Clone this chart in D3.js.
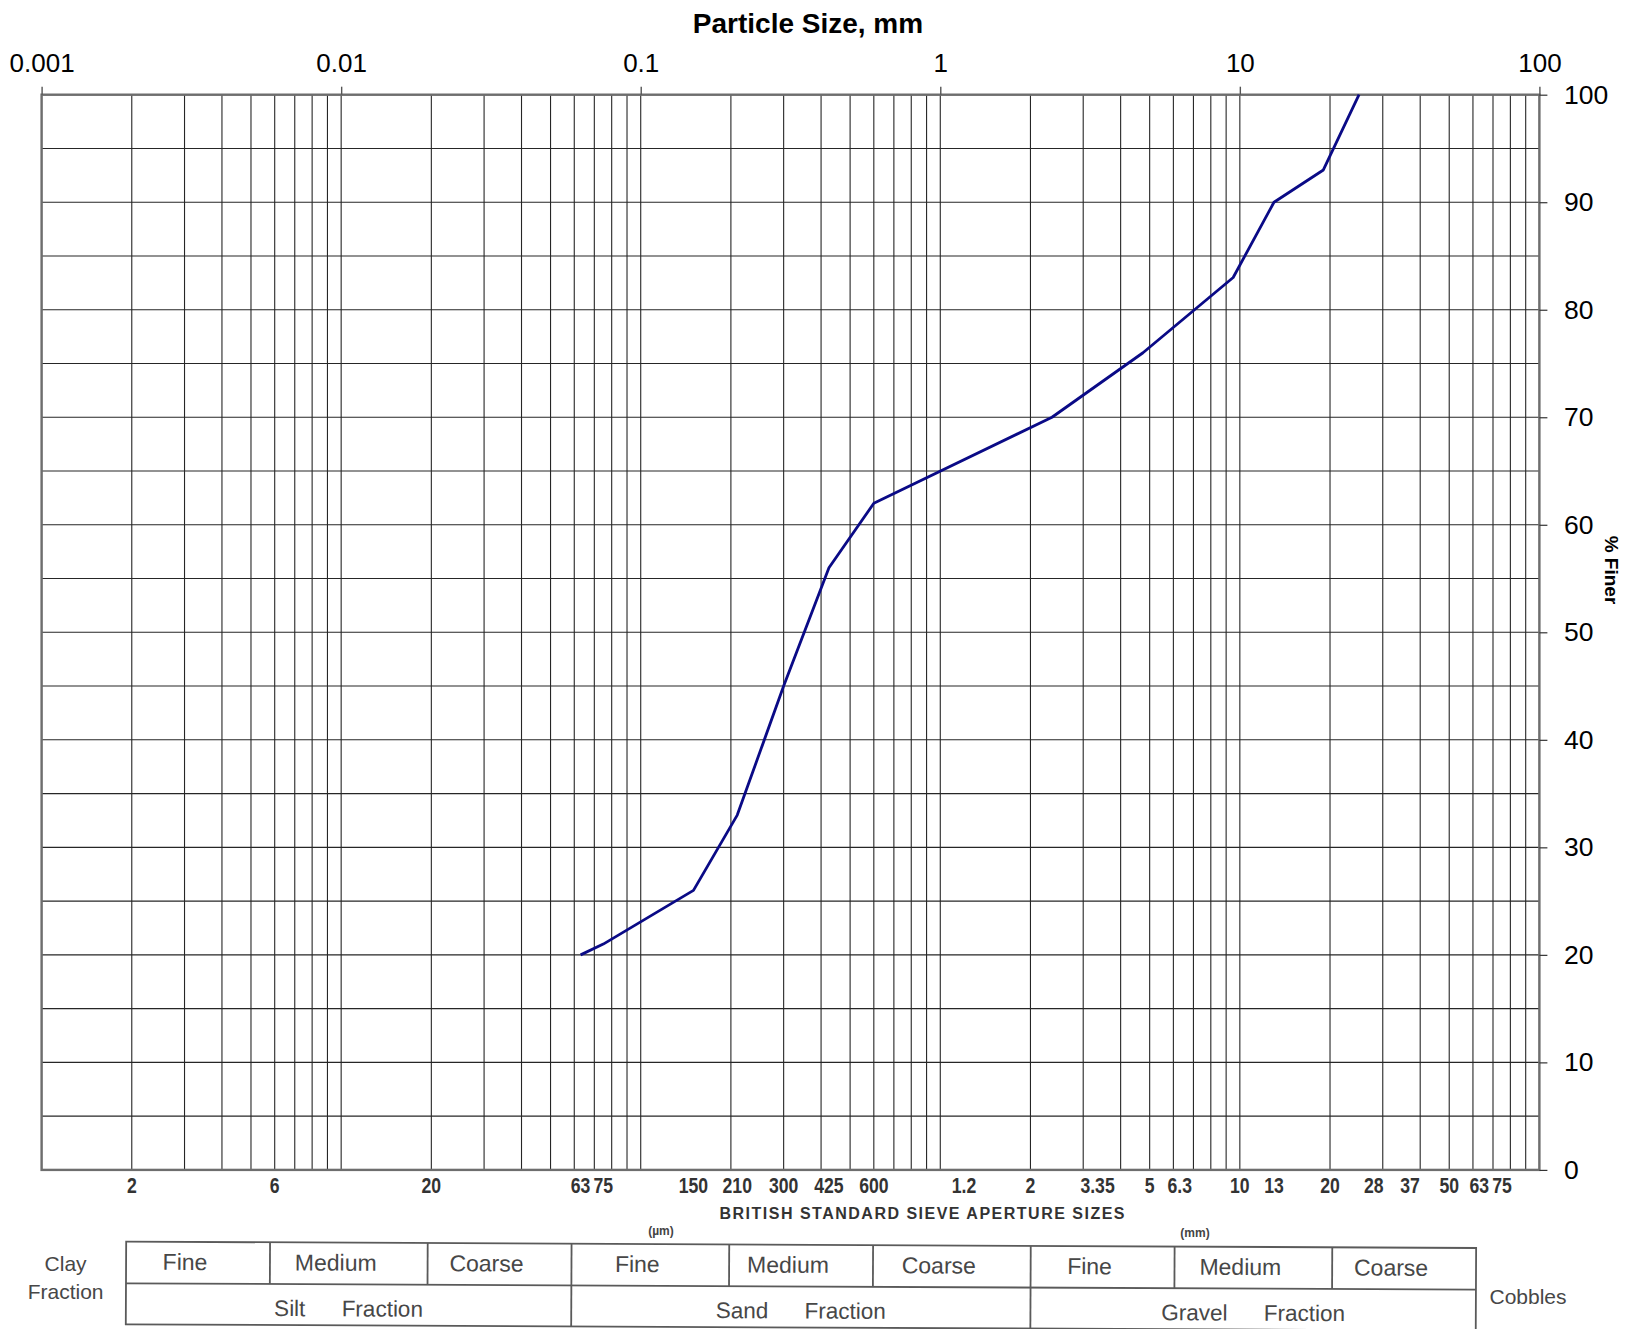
<!DOCTYPE html>
<html>
<head>
<meta charset="utf-8">
<script src="https://cdn.jsdelivr.net/npm/d3@7"></script>
<style>
  html, body { margin: 0; padding: 0; background: #fff; }
  svg { display: block; }
</style>
</head>
<body>
<svg id="chart" width="1632" height="1329"></svg>
<script>
// ---------- data ----------
const sizesMm      = [0.063, 0.075, 0.15, 0.21, 0.3, 0.425, 0.6, 2.36, 4.75, 9.5, 13, 19, 25];
const percentFiner = [20,    21,    26,   33,   45,  56,    62,  70,   76,   83,  90, 93, 100];

const topTickValues = [0.001, 0.01, 0.1, 1, 10, 100];
const topTickLabels = ["0.001", "0.01", "0.1", "1", "10", "100"];
const finerTicks    = [0, 10, 20, 30, 40, 50, 60, 70, 80, 90, 100];

const sieveValuesMm = [0.002, 0.006, 0.02, 0.063, 0.075, 0.15, 0.21, 0.3, 0.425, 0.6,
                       1.2, 2, 3.35, 5, 6.3, 10, 13, 20, 28, 37, 50, 63, 75];
const sieveLabels   = ["2", "6", "20", "63", "75", "150", "210", "300", "425", "600",
                       "1.2", "2", "3.35", "5", "6.3", "10", "13", "20", "28", "37", "50", "63", "75"];

const subBounds  = [0.002, 0.006, 0.02, 0.06, 0.2, 0.6, 2, 6, 20, 60];
const subLabels  = ["Fine", "Medium", "Coarse", "Fine", "Medium", "Coarse", "Fine", "Medium", "Coarse"];
const mainBounds = [0.002, 0.06, 2, 60];
const mainLabels = ["Silt Fraction", "Sand Fraction", "Gravel Fraction"];

// ---------- layout ----------
const L = 41.6, R = 1539.4, T = 94.7, B = 1169.9;
const FONT = "'Liberation Sans', Arial, sans-serif";
const svg = d3.select("#chart");
const x = d3.scaleLog().domain([0.001, 100]).range([L, R]);
const y = d3.scaleLinear().domain([0, 100]).range([B, T]);

// grid
const grid = svg.append("g").attr("stroke", "#262626").attr("stroke-width", 1.1);
grid.selectAll("line.v").data(x.ticks()).join("line")
  .attr("x1", d => x(d)).attr("x2", d => x(d)).attr("y1", T).attr("y2", B);
grid.selectAll("line.h").data(y.ticks(20)).join("line")
  .attr("x1", L).attr("x2", R).attr("y1", d => y(d)).attr("y2", d => y(d));

// frame
svg.append("rect").attr("x", L).attr("y", T).attr("width", R - L).attr("height", B - T)
  .attr("fill", "none").attr("stroke", "#6e6e6e").attr("stroke-width", 2.4);

// top axis
const topAxis = d3.axisTop(x).tickValues(topTickValues)
  .tickFormat((d, i) => topTickLabels[i]).tickSize(8).tickPadding(14.5);
const gt = svg.append("g").attr("transform", `translate(0,${T})`).call(topAxis);
gt.select(".domain").remove();
gt.selectAll(".tick line").attr("stroke", "#555").attr("stroke-width", 1.4);
gt.selectAll(".tick text").attr("font-family", FONT).attr("font-size", 26).attr("fill", "#000");

// right axis
const rightAxis = d3.axisRight(y).tickValues(finerTicks).tickSize(8).tickPadding(16.5);
const gr = svg.append("g").attr("transform", `translate(${R},0)`).call(rightAxis);
gr.select(".domain").remove();
gr.selectAll(".tick line").attr("stroke", "#333").attr("stroke-width", 1.2);
gr.selectAll(".tick text").attr("font-family", FONT).attr("font-size", 26.5).attr("fill", "#000");

// title
svg.append("text").attr("x", 808).attr("y", 33).attr("text-anchor", "middle")
  .attr("font-family", FONT).attr("font-weight", "bold")
  .attr("font-size", 28).text("Particle Size, mm");

// right label
svg.append("text").attr("transform", "translate(1605,570) rotate(90)")
  .attr("text-anchor", "middle")
  .attr("font-family", FONT).attr("font-weight", "bold")
  .attr("font-size", 19).text("% Finer");

// grading curve
const pts = sizesMm.map((s, i) => [s, percentFiner[i]]);
svg.append("path").datum(pts)
  .attr("fill", "none").attr("stroke", "#0a0a86").attr("stroke-width", 2.8)
  .attr("stroke-linejoin", "round")
  .attr("d", d3.line().x(d => x(d[0])).y(d => y(d[1])));

// sieve labels (condensed bold)
svg.append("g").attr("font-family", FONT).attr("font-weight", "bold")
  .attr("fill", "#333").attr("font-size", 22).attr("text-anchor", "middle")
  .selectAll("text").data(sieveValuesMm).join("text")
  .attr("transform", d => `translate(${x(d)},1193) scale(0.8,1)`)
  .text((d, i) => sieveLabels[i]);

svg.append("text").attr("x", 922).attr("y", 1219).attr("text-anchor", "middle")
  .attr("font-family", FONT).attr("font-weight", "bold")
  .attr("font-size", 16).attr("fill", "#333").attr("textLength", 405)
  .attr("lengthAdjust", "spacing").text("BRITISH STANDARD SIEVE APERTURE SIZES");
svg.append("text").attr("x", 661).attr("y", 1235).attr("text-anchor", "middle")
  .attr("font-family", FONT).attr("font-weight", "bold")
  .attr("font-size", 12).attr("fill", "#444").text("(\u00b5m)");
svg.append("text").attr("x", 1195).attr("y", 1237).attr("text-anchor", "middle")
  .attr("font-family", FONT).attr("font-weight", "bold")
  .attr("font-size", 12).attr("fill", "#444").text("(mm)");

// classification table
const tTop = 1244.8, tMid = 1286.5, tBot = 1327.5;
const tx = d => 1.00656 * x(d) - 6.66;
const tL = tx(subBounds[0]), tR = tx(subBounds[subBounds.length - 1]);
const table = svg.append("g")
  .attr("transform", `rotate(0.27, ${(tL + tR) / 2}, ${(tTop + tBot) / 2})`)
  .attr("font-family", FONT);
const tl = table.append("g").attr("stroke", "#5a5a5a").attr("stroke-width", 1.8).attr("fill", "none");
tl.append("rect").attr("x", tL).attr("y", tTop).attr("width", tR - tL).attr("height", tBot - tTop);
tl.append("line").attr("x1", tL).attr("x2", tR).attr("y1", tMid).attr("y2", tMid);
tl.selectAll("line.sub").data(subBounds.slice(1, -1)).join("line")
  .attr("x1", d => tx(d)).attr("x2", d => tx(d)).attr("y1", tTop).attr("y2", tMid);
tl.selectAll("line.main").data(mainBounds.slice(1, -1)).join("line")
  .attr("x1", d => tx(d)).attr("x2", d => tx(d)).attr("y1", tMid).attr("y2", tBot);

table.append("g").attr("fill", "#474747").attr("font-size", 23).attr("text-anchor", "middle")
  .selectAll("text").data(subLabels).join("text")
  .attr("x", (d, i) => (tx(subBounds[i]) + tx(subBounds[i + 1])) / 2 - 13)
  .attr("y", tTop + 28).text(d => d);
table.append("g").attr("fill", "#474747").attr("font-size", 22.5).attr("text-anchor", "middle")
  .attr("word-spacing", 30)
  .selectAll("text").data(mainLabels).join("text")
  .attr("x", (d, i) => (tx(mainBounds[i]) + tx(mainBounds[i + 1])) / 2)
  .attr("y", tMid + 32).text(d => d);

const side = svg.append("g").attr("font-family", FONT)
  .attr("fill", "#474747").attr("font-size", 21).attr("text-anchor", "middle");
side.append("text").attr("x", 65.6).attr("y", 1271).text("Clay");
side.append("text").attr("x", 65.6).attr("y", 1299).text("Fraction");
side.append("text").attr("x", 1528).attr("y", 1304).text("Cobbles");
</script>
</body>
</html>
